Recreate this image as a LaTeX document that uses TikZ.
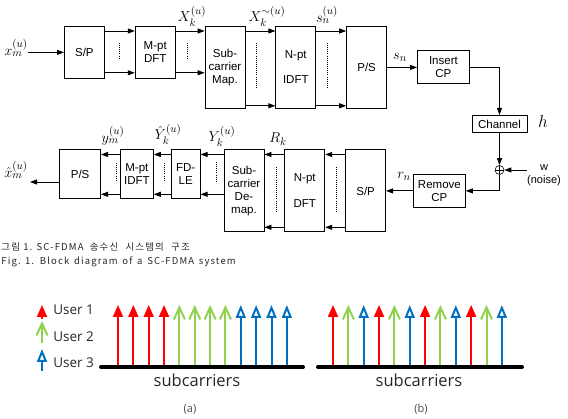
\documentclass[tikz,border=0pt]{standalone}
\usepackage{fontspec}
\setmainfont{Liberation Serif}
\setsansfont{Liberation Sans}
\newfontfamily\krfont{Noto Sans CJK KR}[LetterSpace=12]
\newfontfamily\legfont{Open Sans}
\usetikzlibrary{arrows.meta, positioning}
\definecolor{userred}{RGB}{255,0,0}
\definecolor{usergreen}{RGB}{146,208,80}
\definecolor{userblue}{RGB}{0,112,192}

\begin{document}
\begin{tikzpicture}[x=1pt, y=-1pt, >={Triangle[length=7pt,width=5pt]}, line width=0.8pt,
  block/.style={draw, rectangle, inner sep=1pt, align=center, font=\sffamily\fontsize{11.5}{13}\selectfont},
  shortbox/.style={block, minimum width=40pt, minimum height=52pt},
  tallbox/.style={block, minimum width=40pt, minimum height=82pt},
  rxbox/.style={block, minimum height=49pt},
  sig/.style={inner sep=0pt, font=\fontsize{15}{17}\selectfont},
  dots/.style={line width=1pt, dash pattern=on 0.7pt off 1.4pt},
  car0/.style={line width=2pt, draw=userred, fill=userred, -{Triangle[length=12pt,width=10pt]}},
  car1/.style={line width=2pt, draw=usergreen, -{Straight Barb[length=12pt,width=11pt]}},
  car2/.style={line width=2pt, draw=userblue, -{Triangle[open,length=13pt,width=10pt]}},
  legtext/.style={inner sep=0pt, anchor=base west, text=black!85, font=\legfont\fontsize{13.5}{15}\selectfont},
  capline/.style={anchor=west, inner sep=0pt, text=black!85, font=\krfont\fontsize{9.5}{11}\selectfont},
  axis/.style={line width=4pt, line cap=round}
]
\useasboundingbox (0,0) rectangle (568,419);

% Nodes - transmitter
\node (sp1) [shortbox, anchor=north west] at (64,26) {S/P};
\node (dft) [shortbox, right=30pt of sp1] {M-pt\\DFT};
\node (map) [tallbox, right=29pt of dft.north east, anchor=north west] {Sub-\\carrier\\Map.};
\node (idft) [tallbox, right=30pt of map] {N-pt\\[12pt]IDFT};
\node (ps1) [tallbox, right=30pt of idft] {P/S};
\node (icp) [block, minimum width=52pt, minimum height=33pt, right=30pt of ps1] {Insert\\CP};
\node (chan) [block, minimum width=55pt, minimum height=17pt, anchor=north] at (499.5,115) {Channel};

% Nodes - receiver
\node (plus) [draw, circle, inner sep=0pt, minimum size=9pt, line width=0.6pt,
  path picture={\draw[line width=0.6pt] (path picture bounding box.north) -- (path picture bounding box.south)
  (path picture bounding box.west) -- (path picture bounding box.east);}] at (499.5,170) {};
\node (noise) [align=center, inner sep=0pt, font=\sffamily\fontsize{11}{12.5}\selectfont] at (544,175) {w\\(noise)};
\node (rcp) [block, minimum width=52pt, minimum height=33pt, anchor=north west] at (413,174) {Remove\\CP};
\node (sp2) [tallbox, left=27pt of rcp] {S/P};
\node (dftN) [tallbox, left=20pt of sp2] {N-pt\\[13pt]DFT};
\node (demap) [tallbox, left=20pt of dftN] {Sub-\\carrier\\De-\\map.};
\node (fdle) [rxbox, minimum width=29pt, left=23pt of demap.north west, anchor=north east] {FD-\\LE};
\node (midft) [rxbox, minimum width=33pt, left=17pt of fdle] {M-pt\\IDFT};
\node (ps2) [rxbox, minimum width=41pt, left=19pt of midft] {P/S};

% Signal labels
\node (xin) [sig] at (16,48) {$x_m^{(u)}$};
\node (xout) [sig] at (16,170) {$\hat{x}_m^{(u)}$};
\coordinate (xend) at (30,182);
\node (lXk) [sig] at (192,16) {$X_k^{(u)}$};
\node (lXt) [sig] at (267,16) {$X_k^{\sim(u)}$};
\node (lsu) [sig] at (327,15) {$s_n^{(u)}$};
\node (lsn) [sig] at (400,57) {$s_n$};
\node (lh) [sig, font=\fontsize{16}{18}\selectfont] at (543,122) {$h$};
\node (lRk) [sig] at (278,139) {$R_k$};
\node (lYk) [sig] at (222,136) {$Y_k^{(u)}$};
\node (lYh) [sig] at (168,134) {$\hat{Y}_k^{(u)}$};
\node (lym) [sig] at (113,136) {$y_m^{(u)}$};
\node (lrn) [sig] at (404,176) {$r_n$};

% Arrows - transmitter
\draw[->] (xin.east |- sp1.west) -- (sp1.west);
\draw[->] ([yshift=-5pt]sp1.north east) -- ([yshift=-5pt]dft.north west);
\draw[->] ([yshift=6pt]sp1.south east) -- ([yshift=6pt]dft.south west);
\draw[->] ([yshift=-5pt]dft.north east) -- ([yshift=-5pt]map.north west);
\draw[->] ([yshift=6pt]dft.south east) -- ([yshift=36pt]map.south west);
\draw[->] ([yshift=-5pt]map.north east) -- ([yshift=-5pt]idft.north west);
\draw[->] ([yshift=3pt]map.south east) -- ([yshift=3pt]idft.south west);
\draw[->] ([yshift=-5pt]idft.north east) -- ([yshift=-5pt]ps1.north west);
\draw[->] ([yshift=3pt]idft.south east) -- ([yshift=3pt]ps1.south west);
\draw[->] (ps1) -- (icp);
\draw[->] (icp.east) -| (chan.north);
\draw[->] (chan) -- (plus);
\draw[->] (noise.west |- plus) -- (plus);
\draw[->] (plus) |- (rcp);

% Arrows - receiver
\draw[->] (rcp) -- (sp2);
\draw[->] ([yshift=-5pt]sp2.north west) -- ([yshift=-5pt]dftN.north east);
\draw[->] ([yshift=5pt]sp2.south west) -- ([yshift=5pt]dftN.south east);
\draw[->] ([yshift=-5pt]dftN.north west) -- ([yshift=-5pt]demap.north east);
\draw[->] ([yshift=5pt]dftN.south west) -- ([yshift=5pt]demap.south east);
\draw[->] ([yshift=-5pt]demap.north west) -- ([yshift=-5pt]fdle.north east);
\draw[->] ([yshift=38pt]demap.south west) -- ([yshift=5pt]fdle.south east);
\draw[->] ([yshift=-5pt]fdle.north west) -- ([yshift=-5pt]midft.north east);
\draw[->] ([yshift=5pt]fdle.south west) -- ([yshift=5pt]midft.south east);
\draw[->] ([yshift=-5pt]midft.north west) -- ([yshift=-5pt]ps2.north east);
\draw[->] ([yshift=5pt]midft.south west) -- ([yshift=5pt]ps2.south east);
\draw[->] (ps2.west |- xend) -- (xend);

% Parallel streams
\foreach \x/\ya/\yb in {119/43/58, 187/43/58, 256/43/88, 327/43/88,
                        336/167/213, 276/167/213, 216/162/183, 164/163/181, 116/163/181}
  \draw[dots] (\x,\ya) -- (\x,\yb);

% Caption
\node (capkr) [capline] at (1,247) {그림 1. SC-FDMA\hspace{3pt} 송수신\hspace{4pt} 시스템의\hspace{4pt} 구조};
\node (capen) [capline] at (1,262) {Fig. 1.\hspace{1.5pt} Block\hspace{1.5pt} diagram\hspace{1.5pt} of\hspace{1.5pt} a\hspace{1.5pt} SC-FDMA\hspace{1.5pt} system};

% Legend
\draw[car0] (42,319) -- (42,305);
\draw[car1] (42,343) -- (42,321);
\draw[car2] (42,371) -- (42,349);
\node (u1) [legtext] at (53,315) {User 1};
\node (u2) [legtext] at (53,342) {User 2};
\node (u3) [legtext] at (53,368) {User 3};

% Subcarriers (a) localized, (b) interleaved
\foreach \i in {0,...,11} {
  \pgfmathtruncatemacro\grp{\i/4}
  \draw[car\grp] (118+15.35*\i,367) -- (118+15.35*\i,305);
  \pgfmathtruncatemacro\grp{mod(\i,3)}
  \draw[car\grp] (333+15.35*\i,367) -- (333+15.35*\i,305);
}
\draw[axis] (101,367) -- (303,367);
\draw[axis] (318,367) -- (522,367);
\node (subA) [anchor=base, inner sep=0pt, text=black!85, font=\legfont\fontsize{16.5}{18}\selectfont] at (197,387) {subcarriers};
\node (subB) [anchor=base, inner sep=0pt, text=black!85, font=\legfont\fontsize{16.5}{18}\selectfont] at (419,387) {subcarriers};
\node (labA) [anchor=base, inner sep=0pt, text=black!70, font=\legfont\fontsize{11}{13}\selectfont] at (190,413) {(a)};
\node (labB) [anchor=base, inner sep=0pt, text=black!70, font=\legfont\fontsize{11}{13}\selectfont] at (421,413) {(b)};

\end{tikzpicture}
\end{document}
